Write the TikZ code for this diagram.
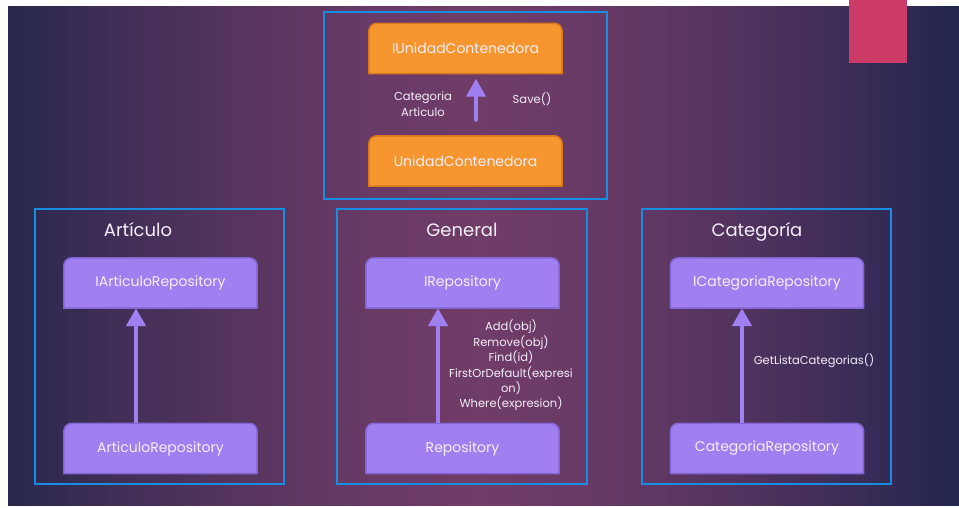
\documentclass[tikz,border=0pt]{standalone}
\usepackage{fontspec}
\setmainfont{Poppins}
\usetikzlibrary{arrows.meta,backgrounds}
\definecolor{slideL}{RGB}{42,40,78}
\definecolor{slideM}{RGB}{112,60,104}
\definecolor{slideR}{RGB}{36,38,80}
\definecolor{frameblue}{RGB}{24,142,226}
\definecolor{ifill}{RGB}{160,128,240}
\definecolor{iline}{RGB}{130,100,210}
\definecolor{ofill}{RGB}{247,150,47}
\definecolor{oline}{RGB}{215,120,30}
\definecolor{tabpink}{RGB}{204,58,104}
\definecolor{txt}{RGB}{244,238,250}
\tikzset{
  repobox/.style={minimum width=193pt, minimum height=50pt, inner sep=0pt, text=txt, font=\fontsize{14}{16}\selectfont},
  frame/.style={draw=frameblue, line width=2pt},
  inher/.style={draw=ifill, line width=4.5pt, -{Triangle[length=18pt,width=19pt]}},
  lbl/.style={text=txt, align=center, font=\fontsize{11.5}{15.4}\selectfont},
  ttl/.style={text=txt, anchor=base, font=\fontsize{18}{20}\selectfont},
}
% top corners rounded, bottom square
\newcommand\tabshape[2]{%
  \begin{scope}[on background layer]
    \filldraw[#2, line width=1.5pt] (#1.south west) [rounded corners=8pt] -- (#1.north west) -- (#1.north east) [sharp corners] -- (#1.south east) -- cycle;
  \end{scope}}

\begin{document}
\begin{tikzpicture}[x=1pt,y=1pt]
  \begin{scope}[on background layer]
    \fill[white] (0,0) rectangle (959,508);
    \foreach \i in {0,...,94} {
      \pgfmathtruncatemacro\p{100*(1-(abs(\i-47)/47)^1.5)}
      \ifnum\i<47 \def\sidecol{slideL}\else\def\sidecol{slideR}\fi
      \fill[slideM!\p!\sidecol] (8+10*\i,2) rectangle (8+10*\i+10.6,502);
    }
    \fill[tabpink] (849,445) rectangle (907,508);
    \draw[frame] (324,309) rectangle (607,496);
    \draw[frame] (35,24) rectangle (284,299);
    \draw[frame] (337,24) rectangle (587,299);
    \draw[frame] (642,24) rectangle (891,299);
  \end{scope}

  % unidad de trabajo
  \node[repobox] (iuc) at (465.5,459.5) {IUnidadContenedora};
  \node[repobox] (uc) at (465.5,347) {UnidadContenedora};
  \tabshape{iuc}{fill=ofill, draw=oline}
  \tabshape{uc}{fill=ofill, draw=oline}
  \draw[inher, line width=4pt, line cap=round, shorten <=16pt, shorten >=5pt] ([xshift=10.5pt]uc.north) -- ([xshift=10.5pt]iuc.south);
  \node[lbl] (ucprops) at (423,404) {Categoria\\Articulo};
  \node[lbl] (ucsave) at (532,409) {Save()};

  % articulo
  \node[ttl] (tart) at (138,271) {Artículo};
  \node[repobox] (iart) at (160.5,225) {IArticuloRepository};
  \node[repobox] (art) at (160.5,59.5) {ArticuloRepository};
  \tabshape{iart}{fill=ifill, draw=iline}
  \tabshape{art}{fill=ifill, draw=iline}
  \draw[inher] ([xshift=-24.5pt]art.north) -- ([xshift=-24.5pt]iart.south);

  % general
  \node[ttl] (tgen) at (462,271) {General};
  \node[repobox] (irepo) at (462.5,225) {IRepository};
  \node[repobox] (repo) at (462.5,59.5) {Repository};
  \tabshape{irepo}{fill=ifill, draw=iline}
  \tabshape{repo}{fill=ifill, draw=iline}
  \draw[inher] ([xshift=-24.5pt]repo.north) -- ([xshift=-24.5pt]irepo.south);
  \node[lbl] (repometh) at (511,142.5) {Add(obj)\\Remove(obj)\\Find(id)\\FirstOrDefault(expresi\\on)\\Where(expresion)};

  % categoria
  \node[ttl] (tcat) at (757,271) {Categoría};
  \node[repobox] (icat) at (767,225) {ICategoriaRepository};
  \node[repobox] (cat) at (767,59.5) {CategoriaRepository};
  \tabshape{icat}{fill=ifill, draw=iline}
  \tabshape{cat}{fill=ifill, draw=iline}
  \draw[inher] ([xshift=-25pt]cat.north) -- ([xshift=-25pt]icat.south);
  \node[lbl] (catmeth) at (814,147) {GetListaCategorias()};
\end{tikzpicture}
\end{document}
